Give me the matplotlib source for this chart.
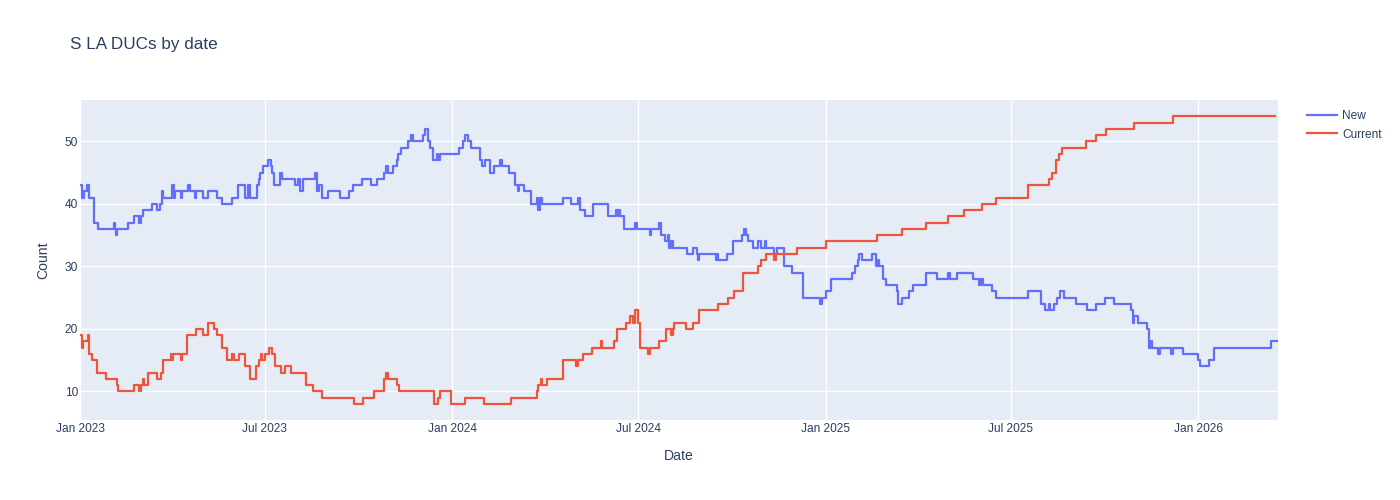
import matplotlib
matplotlib.use("Agg")
import matplotlib.pyplot as plt
import pandas as pd

# ---- data (step change points; x = days since start date) ----
start_date = "2023-01-01"

new_days = [0, 2, 4, 7, 9, 14, 18, 33, 34, 35, 36, 47, 53, 58, 60, 62, 71, 75, 78, 80, 81,
            90, 92, 93, 99, 100, 106, 108, 113, 114, 121, 125, 134, 139, 149, 155, 162, 165,
            167, 173, 175, 176, 179, 184, 187, 188, 190, 196, 198, 211, 214, 216, 219, 230,
            232, 234, 237, 243, 255, 264, 268, 276, 285, 291, 298, 300, 302, 307, 311, 312,
            315, 321, 324, 326, 336, 338, 341, 343, 346, 350, 351, 353, 371, 375, 377, 380,
            383, 392, 394, 397, 402, 406, 412, 414, 420, 426, 429, 430, 435, 442, 448, 449,
            451, 453, 473, 481, 488, 490, 495, 503, 517, 525, 527, 528, 529, 533, 544, 546,
            559, 560, 567, 569, 573, 576, 577, 579, 581, 595, 601, 605, 606, 607, 623, 624,
            625, 634, 640, 649, 651, 653, 655, 660, 664, 667, 671, 672, 680, 683, 690, 698,
            709, 725, 727, 731, 736, 757, 759, 762, 763, 766, 776, 780, 782, 783, 787, 790,
            801, 802, 806, 812, 816, 829, 840, 851, 853, 859, 875, 881, 883, 885, 894, 898,
            929, 942, 946, 950, 951, 954, 957, 960, 964, 976, 987, 996, 1004, 1013, 1030,
            1032, 1033, 1037, 1046, 1048, 1050, 1051, 1056, 1058, 1069, 1071, 1081, 1096,
            1098, 1106, 1111, 1167, 1174]
new_vals = [43, 41, 42, 43, 41, 37, 36, 37, 36, 35, 36, 37, 38, 37, 38, 39, 40, 39, 40, 42, 41,
            43, 41, 42, 41, 42, 43, 42, 41, 42, 41, 42, 41, 40, 41, 43, 41, 43,
            41, 43, 44, 45, 46, 47, 46, 45, 43, 45, 44, 43, 44, 42, 44, 45,
            42, 43, 41, 42, 41, 42, 43, 44, 43, 44, 45, 46, 45, 46, 47, 48,
            49, 50, 51, 50, 51, 52, 50, 49, 47, 48, 47, 48, 49, 50, 51, 50,
            49, 47, 46, 47, 45, 46, 47, 46, 45, 43, 42, 43, 42, 40, 41, 39,
            41, 40, 41, 40, 41, 39, 38, 40, 38, 39, 38, 39, 38, 36, 37, 36,
            35, 36, 37, 35, 34, 35, 33, 34, 33, 32, 33, 32, 31, 32, 31, 32,
            31, 32, 34, 35, 36, 35, 34, 33, 34, 33, 34, 33, 32, 33, 30, 29,
            25, 24, 25, 26, 28, 29, 30, 31, 32, 31, 32, 30, 31, 30, 28, 27,
            26, 24, 25, 26, 27, 29, 28, 29, 28, 29, 28, 27, 28, 27, 26, 25,
            26, 24, 23, 24, 23, 24, 25, 26, 25, 24, 23, 24, 25, 24, 23,
            21, 22, 21, 20, 17, 18, 17, 16, 17, 16, 17, 16, 15,
            14, 15, 17, 18, 18]

current_days = [0, 2, 3, 8, 9, 12, 17, 25, 36, 37, 53, 58, 60, 62, 63, 67, 75, 79, 81, 89, 90,
                91, 99, 100, 105, 114, 121, 125, 131, 134, 139, 144, 149, 151, 156, 162, 167,
                172, 175, 177, 178, 181, 185, 188, 191, 197, 201, 207, 221, 228, 237, 269, 277,
                288, 298, 300, 302, 311, 313, 347, 351, 353, 364, 377, 396, 422, 448, 449, 452,
                453, 458, 473, 486, 488, 493, 502, 511, 512, 523, 526, 535, 539, 542, 544, 547,
                549, 557, 559, 567, 574, 579, 581, 582, 594, 601, 607, 625, 635, 641, 650, 664,
                667, 672, 680, 682, 703, 731, 781, 806, 829, 851, 866, 884, 898, 929, 950, 953,
                956, 959, 962, 986, 996, 1005, 1033, 1071, 1171]
current_vals = [19, 17, 18, 19, 16, 15, 13, 12, 11, 10, 11, 10, 11, 12, 11, 13, 12, 13, 15, 16, 15,
                16, 15, 16, 19, 20, 19, 21, 20, 19, 17, 15, 16, 15, 16, 14, 12,
                14, 15, 16, 15, 16, 17, 16, 14, 13, 14, 13, 11, 10, 9, 8, 9,
                10, 12, 13, 12, 11, 10, 8, 9, 10, 8, 9, 8, 9, 10, 11, 12,
                11, 12, 15, 14, 15, 16, 17, 18, 17, 18, 20, 21, 22, 21, 23, 21,
                17, 16, 17, 18, 20, 19, 20, 21, 20, 21, 23, 24, 25, 26, 29, 30,
                31, 32, 31, 32, 33, 34, 35, 36, 37, 38, 39, 40, 41, 43, 44, 45,
                47, 48, 49, 50, 51, 52, 53, 54, 54]

series_names = ["New", "Current"]
x_tick_labels = ["Jan 2023", "Jul 2023", "Jan 2024", "Jul 2024", "Jan 2025", "Jul 2025", "Jan 2026"]
x_tick_dates = ["2023-01-01", "2023-07-01", "2024-01-01", "2024-07-01", "2025-01-01", "2025-07-01", "2026-01-01"]
y_ticks = [10, 20, 30, 40, 50]

# ---- styling ----
TXT = "#2a3f5f"
BG = "#E5ECF6"
plt.rcParams["font.family"] = ["Liberation Sans", "DejaVu Sans"]

base = pd.Timestamp(start_date)
new_x = base + pd.to_timedelta(new_days, unit="D")
cur_x = base + pd.to_timedelta(current_days, unit="D")

fig = plt.figure(figsize=(14, 5), dpi=100)
ax = fig.add_axes([80 / 1400, 1 - 420 / 500, (1278 - 80) / 1400, (420 - 100) / 500])
ax.set_facecolor(BG)

ax.plot(new_x, new_vals, drawstyle="steps-post", color="#636EFA", lw=1.6, label=series_names[0])
ax.plot(cur_x, current_vals, drawstyle="steps-post", color="#EF553B", lw=1.6, label=series_names[1])

ax.set_xlim(new_x[0], new_x[-1])
ax.set_ylim(5.4, 56.6)

ax.set_xticks(pd.to_datetime(x_tick_dates))
ax.set_xticklabels(x_tick_labels)
ax.set_yticks(y_ticks)
ax.grid(True, color="white", lw=1.0)
ax.set_axisbelow(True)
for s in ax.spines.values():
    s.set_visible(False)
ax.tick_params(axis="both", length=0, labelsize=8.6, colors=TXT)
ax.tick_params(axis="x", pad=2.5)
ax.tick_params(axis="y", pad=1.5)

ax.set_xlabel("Date", fontsize=10.1, color=TXT, labelpad=10)
ax.set_ylabel("Count", fontsize=10.1, color=TXT, labelpad=10.5)

fig.text(70 / 1400, 1 - 45 / 500, "S LA DUCs by date", fontsize=12.3, color=TXT, va="center", ha="left")

leg = fig.legend(loc="upper left", bbox_to_anchor=(1307 / 1400, 1 - 110 / 500), frameon=False,
                 fontsize=8.6, handlelength=2.5, handletextpad=0.45, labelspacing=0.55,
                 borderaxespad=0, borderpad=0)
for t in leg.get_texts():
    t.set_color(TXT)

fig.savefig("out.png", dpi=100)
